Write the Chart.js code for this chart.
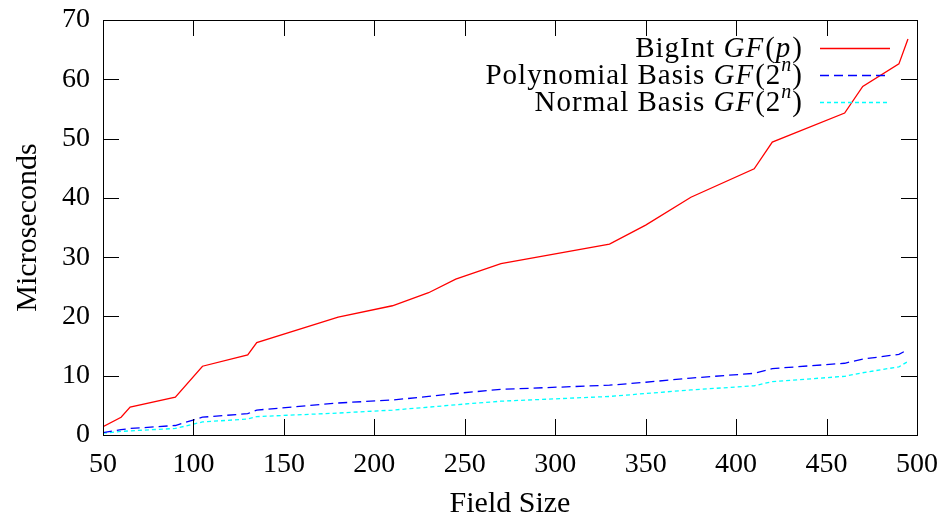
<!DOCTYPE html>
<html>
<head>
<meta charset="utf-8">
<script src="https://cdn.jsdelivr.net/npm/chart.js@4"></script>
<style>
  html, body { margin: 0; padding: 0; background: #fff; }
  #wrap { width: 947px; height: 517px; }
</style>
</head>
<body>
<div id="wrap"><canvas id="grafica" width="947" height="517"></canvas></div>
<script>
// ==========================================
// DATOS
// ==========================================
const fieldSizes = [50, 60, 65, 90, 105, 130, 135, 180, 210, 230, 245, 270, 330, 350, 375, 410, 420, 460, 470, 490, 495];
const bigIntGFp  = [1.4, 3.0, 4.7, 6.4, 11.6, 13.5, 15.6, 19.9, 21.8, 24.0, 26.3, 28.9, 32.2, 35.4, 40.1, 44.9, 49.4, 54.3, 58.8, 62.6, 66.8];
const polyBasis  = [0.4, 0.9, 1.1, 1.6, 3.0, 3.6, 4.2, 5.4, 5.9, 6.5, 7.0, 7.7, 8.4, 8.9, 9.6, 10.4, 11.2, 12.1, 12.8, 13.6, 14.4];
const normBasis  = [0.3, 0.6, 0.7, 1.1, 2.2, 2.7, 3.1, 3.7, 4.2, 4.7, 5.1, 5.7, 6.5, 7.0, 7.6, 8.3, 9.0, 9.9, 10.5, 11.5, 12.4];

const xTicks = [50, 100, 150, 200, 250, 300, 350, 400, 450, 500];
const yTicks = [0, 10, 20, 30, 40, 50, 60, 70];

// etiquetas de la leyenda: [texto, cursiva?, superindice?]
const legendParts = [
  [['BigInt ', false], ['GF', true], ['(', false], ['p', true], [')', false]],
  [['Polynomial Basis ', false], ['GF', true], ['(2', false], ['n', true, true], [')', false]],
  [['Normal Basis ', false], ['GF', true], ['(2', false], ['n', true, true], [')', false]]
];

const FONT = '"Liberation Serif", "DejaVu Serif", serif';

function puntos(ys) {
  return fieldSizes.map((x, i) => ({ x: x, y: ys[i] }));
}

// ==========================================
// PLUGINS: marco, ticks hacia dentro y leyenda
// ==========================================
const marcoGnuplot = {
  id: 'marcoGnuplot',
  afterDraw(chart) {
    const { ctx, chartArea: a, scales } = chart;
    const len = 16;
    ctx.save();
    ctx.strokeStyle = '#000';
    ctx.lineWidth = 1;
    ctx.beginPath();
    xTicks.forEach(v => {
      const px = Math.round(scales.x.getPixelForValue(v)) + 0.5;
      ctx.moveTo(px, a.bottom); ctx.lineTo(px, a.bottom - len);
      ctx.moveTo(px, a.top); ctx.lineTo(px, a.top + len);
    });
    yTicks.forEach(v => {
      const py = Math.round(scales.y.getPixelForValue(v)) + 0.5;
      ctx.moveTo(a.left, py); ctx.lineTo(a.left + len, py);
      ctx.moveTo(a.right, py); ctx.lineTo(a.right - len, py);
    });
    ctx.stroke();
    ctx.strokeRect(Math.round(a.left) + 0.5, Math.round(a.top) + 0.5,
                   Math.round(a.right - a.left), Math.round(a.bottom - a.top));
    ctx.restore();
  }
};

const leyenda = {
  id: 'leyenda',
  afterDraw(chart) {
    const ctx = chart.ctx;
    const textRight = 803, lineX0 = 820, lineX1 = 890, y0 = 48, dy = 27;
    const size = 29;
    ctx.save();
    ctx.textBaseline = 'middle';
    ctx.letterSpacing = '1px';
    chart.data.datasets.forEach((ds, i) => {
      const y = y0 + i * dy;
      const parts = legendParts[i];
      const fontDe = p => (p[1] ? 'italic ' : '') + (p[2] ? 20 : size) + 'px ' + FONT;
      let total = 0;
      parts.forEach(p => { ctx.font = fontDe(p); total += ctx.measureText(p[0]).width + (p[1] && !p[2] ? 1 : 0); });
      let x = textRight - total;
      ctx.fillStyle = '#000';
      parts.forEach(p => {
        ctx.font = fontDe(p);
        ctx.fillText(p[0], x, p[2] ? y - 9 : y + 1);
        x += ctx.measureText(p[0]).width + (p[1] && !p[2] ? 1 : 0);
      });
      ctx.strokeStyle = ds.borderColor;
      ctx.lineWidth = ds.borderWidth;
      ctx.setLineDash(ds.borderDash || []);
      ctx.beginPath();
      ctx.moveTo(lineX0, y + 0.5);
      ctx.lineTo(lineX1, y + 0.5);
      ctx.stroke();
    });
    ctx.restore();
  }
};

// ==========================================
// GRAFICA
// ==========================================
const ctx = document.getElementById('grafica').getContext('2d');
const miGrafica = new Chart(ctx, {
  type: 'line',
  data: {
    datasets: [
      { label: 'BigInt GF(p)', data: puntos(bigIntGFp), borderColor: '#ff0000', borderWidth: 1.3 },
      { label: 'Polynomial Basis GF(2^n)', data: puntos(polyBasis), borderColor: '#0000ff', borderWidth: 1.3, borderDash: [9, 5] },
      { label: 'Normal Basis GF(2^n)', data: puntos(normBasis), borderColor: '#00ffff', borderWidth: 1.3, borderDash: [4, 3] }
    ]
  },
  options: {
    responsive: false,
    animation: false,
    devicePixelRatio: 1,
    elements: { point: { radius: 0 }, line: { tension: 0 } },
    layout: { padding: { top: 20, right: 30, left: 0, bottom: 0 } },
    plugins: { legend: { display: false }, tooltip: { enabled: false } },
    scales: {
      x: {
        type: 'linear', min: 50, max: 500,
        afterBuildTicks: s => { s.ticks = xTicks.map(v => ({ value: v })); },
        afterFit: s => { s.height = 82; s.paddingLeft = 0; s.paddingRight = 0; },
        grid: { display: false, drawTicks: false },
        border: { display: false },
        ticks: { color: '#000', padding: 13, font: { family: FONT, size: 28 } },
        title: { display: true, text: 'Field Size', color: '#000', padding: { top: 2, bottom: 0 }, font: { family: FONT, size: 30, lineHeight: 0.85 } }
      },
      y: {
        type: 'linear', min: 0, max: 70,
        afterBuildTicks: s => { s.ticks = yTicks.map(v => ({ value: v })); },
        afterFit: s => { s.width = 103; s.paddingTop = 0; s.paddingBottom = 0; },
        grid: { display: false, drawTicks: false },
        border: { display: false },
        ticks: { color: '#000', padding: 13, font: { family: FONT, size: 28 } },
        title: { display: true, text: 'Microseconds', color: '#000', padding: { top: 10, bottom: 4 }, font: { family: FONT, size: 30 } }
      }
    }
  },
  plugins: [marcoGnuplot, leyenda]
});
</script>
</body>
</html>
